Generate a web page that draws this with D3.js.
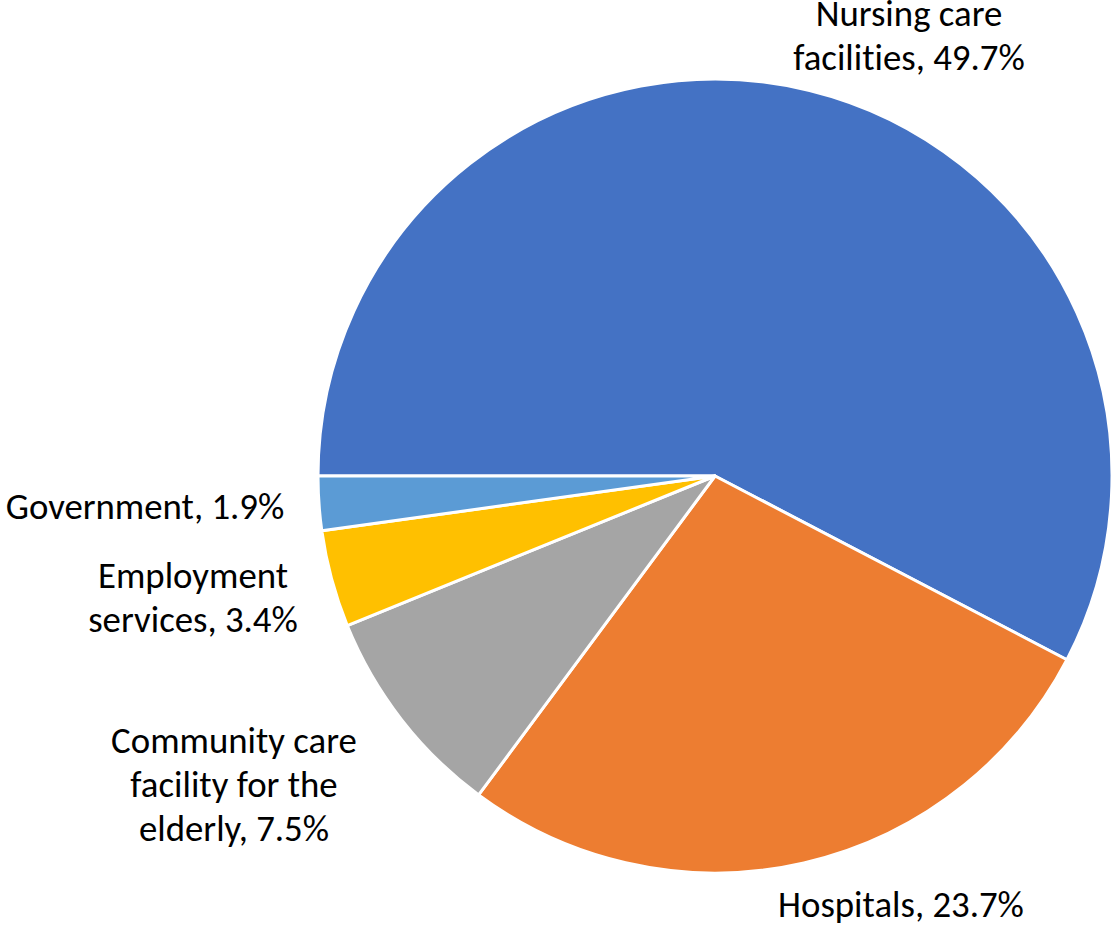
<!DOCTYPE html>
<html>
<head>
<meta charset="utf-8">
<script src="https://cdn.jsdelivr.net/npm/d3@7"></script>
<style>
  html, body { margin: 0; padding: 0; background: #ffffff; }
  svg { display: block; }
  text, tspan {
    font-family: Carlito, Calibri, "Open Sans", sans-serif;
    fill: #000;
    font-variant-ligatures: none;
    font-feature-settings: "liga" 0, "clig" 0, "dlig" 0, "calt" 0, "hlig" 0;
  }
</style>
</head>
<body>
<svg id="chart" width="1114" height="929"></svg>
<script>
// Share of workers by employer type (percent)
const categories = [
  "Nursing care facilities",
  "Hospitals",
  "Community care facility for the elderly",
  "Employment services",
  "Government"
];
const values = [49.7, 23.7, 7.5, 3.4, 1.9];
const colors = ["#4472C4", "#ED7D31", "#A5A5A5", "#FFC000", "#5B9BD5"];

// Label text broken into lines, and the first-line baseline each block is centred on
const labelLines = [
  ["Nursing care", "facilities, 49.7%"],
  ["Hospitals, 23.7%"],
  ["Community care", "facility for the", "elderly, 7.5%"],
  ["Employment", "services, 3.4%"],
  ["Government, 1.9%"]
];
const labelAnchors = [
  [909, 26],
  [901, 917],
  [234, 753],
  [193, 588],
  [145, 519]
];

const cx = 715, cy = 476, radius = 397;
const lineHeight = 44;
const fontSize = 36.8;

const svg = d3.select("#chart");

const data = categories.map((c, i) => ({ name: c, value: values[i], color: colors[i] }));

// Slices run clockwise from the 9 o'clock position
const pie = d3.pie()
  .value(d => d.value)
  .sort(null)
  .startAngle(-Math.PI / 2)
  .endAngle(1.5 * Math.PI);

const arc = d3.arc().innerRadius(0).outerRadius(radius);

const g = svg.append("g").attr("transform", `translate(${cx},${cy})`);

g.selectAll("path")
  .data(pie(data))
  .join("path")
  .attr("d", arc)
  .attr("fill", d => d.data.color)
  .attr("stroke", "#ffffff")
  .attr("stroke-width", 3)
  .attr("stroke-linejoin", "round");

const labels = svg.append("g");
data.forEach((d, i) => {
  const [x, y] = labelAnchors[i];
  const t = labels.append("text")
    .attr("text-anchor", "middle")
    .attr("font-size", fontSize)
    .style("font-variant-ligatures", "none")
    .style("font-feature-settings", '"liga" 0, "clig" 0, "dlig" 0, "calt" 0');
  labelLines[i].forEach((line, k) => {
    t.append("tspan")
      .attr("x", x)
      .attr("y", y + k * lineHeight)
      .text(line);
  });
});
</script>
</body>
</html>
